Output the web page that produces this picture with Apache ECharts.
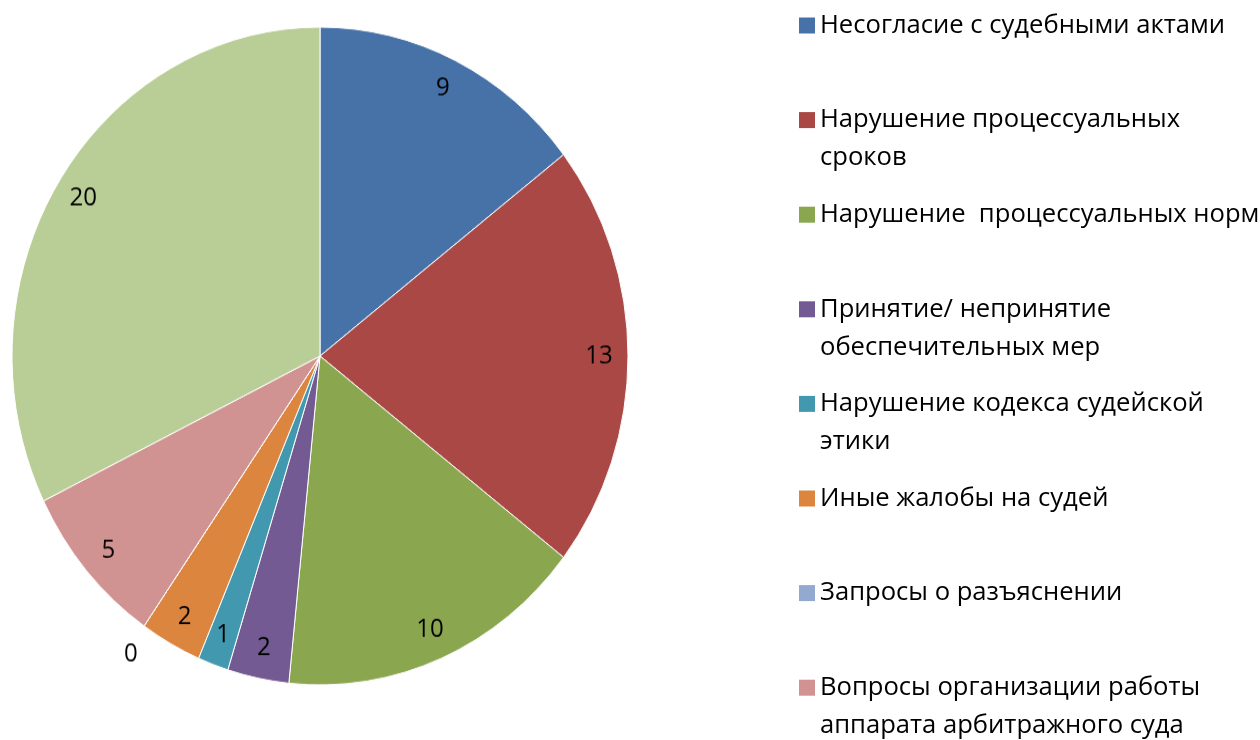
<!DOCTYPE html>
<html>
<head>
<meta charset="utf-8">
<script src="https://cdn.jsdelivr.net/npm/echarts@6/dist/echarts.min.js"></script>
<style>
    html, body { margin: 0; padding: 0; background: #fff; }
    #wrap { position: relative; width: 1260px; height: 740px; overflow: hidden; }
    /* pie in the source is a bit taller than wide */
    #chartPie { position: absolute; left: 0; top: 0; width: 640px; height: 740px;
        transform: scaleY(1.068); transform-origin: 320px 356px; }
    #chartLegend { position: absolute; left: 640px; top: 0; width: 620px; height: 740px; }
</style>
</head>
<body>
<div id="wrap">
    <div id="chartPie"></div>
    <div id="chartLegend"></div>
</div>
<script>
    var categories = [
        'Несогласие с судебными актами',
        'Нарушение процессуальных сроков',
        'Нарушение  процессуальных норм',
        'Принятие/ непринятие обеспечительных мер',
        'Нарушение кодекса судейской этики',
        'Иные жалобы на судей',
        'Запросы о разъяснении',
        'Вопросы организации работы аппарата арбитражного суда',
        'Прочее'
    ];
    var values = [9, 13, 10, 2, 1, 2, 0, 5, 20];
    // legend lines as they wrap in the picture
    var legendText = [
        'Несогласие с судебными актами',
        'Нарушение процессуальных\nсроков',
        'Нарушение  процессуальных норм',
        'Принятие/ непринятие\nобеспечительных мер',
        'Нарушение кодекса судейской\nэтики',
        'Иные жалобы на судей',
        'Запросы о разъяснении',
        'Вопросы организации работы\nаппарата арбитражного суда'
    ];
    var colors = ['#4672A8', '#A94845', '#8AA64F', '#735A93', '#4198AF', '#DC853F', '#93A9CF', '#D19392', '#B9CD96'];

    var font = '"Open Sans", "Noto Sans", sans-serif';

    function pieData(extra) {
        return values.map(function (v, i) {
            var item = { value: v, name: categories[i], itemStyle: { color: colors[i] } };
            if (extra) extra(item, v);
            return item;
        });
    }

    var pieChart = echarts.init(document.getElementById('chartPie'));
    pieChart.setOption({
        animation: false,
        series: [
            {
                type: 'pie',
                center: [320, 356],
                radius: [0, 308],
                startAngle: 90,
                silent: true,
                avoidLabelOverlap: false,
                label: { show: false },
                labelLine: { show: false },
                itemStyle: { borderColor: '#fff', borderWidth: 1 },
                data: pieData()
            },
            {
                // transparent ring, only used to put the value labels near the rim
                type: 'pie',
                center: [320, 356],
                radius: [244, 308],
                startAngle: 90,
                silent: true,
                avoidLabelOverlap: false,
                itemStyle: { color: 'transparent', borderWidth: 0 },
                label: {
                    show: true,
                    position: 'inside',
                    formatter: '{c}',
                    color: '#000',
                    fontSize: 24,
                    fontFamily: font
                },
                labelLine: { show: false },
                data: pieData(function (item, v) {
                    item.itemStyle = { color: 'transparent' };
                    if (v === 0) {
                        item.label = { position: 'outside', distanceToLabelLine: -12 };
                        item.labelLine = { show: false, length: 32, length2: 0 };
                    }
                })
            }
        ]
    });

    var legendChart = echarts.init(document.getElementById('chartLegend'));
    legendChart.setOption({
        animation: false,
        legend: legendText.map(function (txt, i) {
            var twoLine = txt.indexOf('\n') >= 0;
            var cy = 25.5 + i * 94.6;
            return {
                data: [categories[i]],
                orient: 'vertical',
                left: 159,
                top: cy - (twoLine ? 57 : 19),
                padding: 0,
                icon: 'rect',
                itemWidth: 16,
                itemHeight: 16,
                selectedMode: false,
                // empty first line keeps the marker level with the first text line
                formatter: function () { return twoLine ? '\n' + txt : txt; },
                textStyle: {
                    fontFamily: font,
                    fontSize: 25.6,
                    color: '#000',
                    lineHeight: 38
                }
            };
        }),
        series: [
            {
                // hidden copy, feeds the legend colours
                type: 'pie',
                center: [-100, -100],
                radius: 0,
                silent: true,
                label: { show: false },
                data: pieData()
            }
        ]
    });
</script>
</body>
</html>
